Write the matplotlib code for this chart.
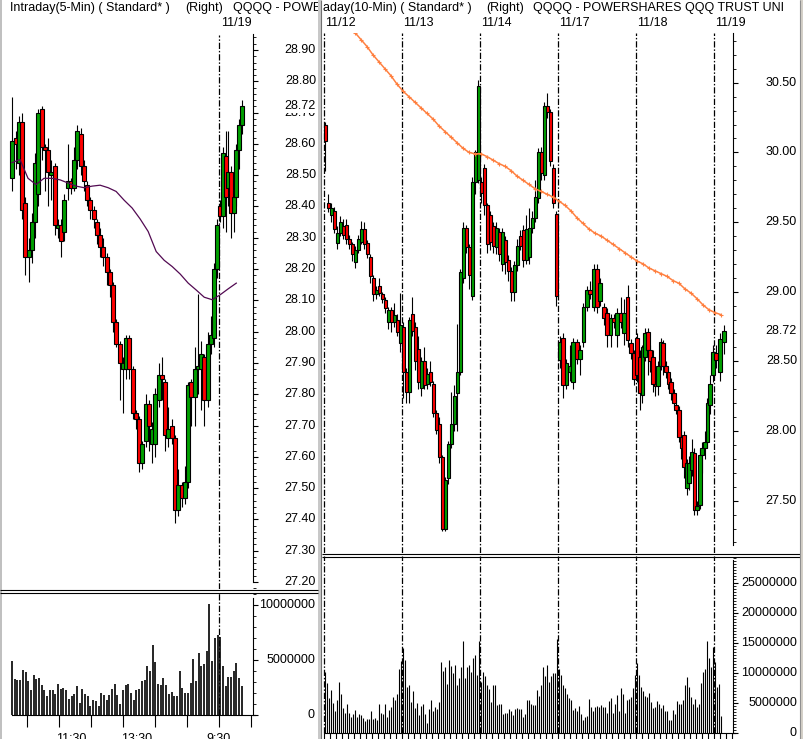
import numpy as np
import matplotlib
matplotlib.use("Agg")
import matplotlib.pyplot as plt
from matplotlib.patches import Rectangle
from matplotlib.ticker import MultipleLocator

W, H = 804, 739
GREEN = '#00a000'
RED = '#ff0000'
ORANGE = '#ff8040'
PURPLE = '#520a52'
DASHDOT = (0, (5, 1.5, 1.2, 1.5))

plt.rcParams['font.family'] = ['Liberation Sans', 'DejaVu Sans']
plt.rcParams['font.size'] = 9

# ---------------- left panel: 5-min bars, 11/18 + start of 11/19 ----------------
left_days = ['11/18', '11/19']
left_candles_per_day = [64, 9]
left_open = [28.49, 28.62, 28.54, 28.67, 28.41, 28.24, 28.26, 28.35, 28.44, 28.71,
             28.59, 28.58, 28.50, 28.53, 28.33, 28.34, 28.32, 28.46, 28.48, 28.46,
             28.55, 28.63, 28.53, 28.47, 28.42, 28.39, 28.35, 28.31, 28.27, 28.24,
             28.19, 28.15, 28.03, 27.96, 27.88, 27.88, 27.98, 27.88, 27.74, 27.72,
             27.58, 27.65, 27.77, 27.64, 27.64, 27.78, 27.86, 27.84, 27.66, 27.70,
             27.66, 27.43, 27.51, 27.47, 27.52, 27.84, 27.79, 27.88, 27.88, 27.92,
             27.78, 27.96, 27.98, 28.20,
             28.40, 28.37, 28.56, 28.46, 28.51, 28.38, 28.43, 28.58, 28.66]
left_high = [28.75, 28.64, 28.69, 28.70, 28.43, 28.30, 28.38, 28.57, 28.71, 28.72,
             28.60, 28.62, 28.55, 28.54, 28.36, 28.36, 28.44, 28.60, 28.49, 28.59,
             28.66, 28.65, 28.55, 28.48, 28.43, 28.40, 28.36, 28.33, 28.30, 28.25,
             28.20, 28.16, 28.04, 27.97, 27.92, 27.99, 27.99, 27.89, 27.75, 27.73,
             27.65, 27.80, 27.78, 27.71, 27.82, 27.90, 27.92, 27.85, 27.76, 27.72,
             27.67, 27.56, 27.52, 27.57, 27.84, 27.85, 27.95, 28.12, 27.97, 27.93,
             28.00, 28.05, 28.22, 28.36,
             28.42, 28.59, 28.64, 28.64, 28.53, 28.52, 28.60, 28.68, 28.74]
left_low = [28.45, 28.52, 28.50, 28.36, 28.18, 28.16, 28.22, 28.30, 28.40, 28.55,
            28.45, 28.40, 28.42, 28.31, 28.30, 28.24, 28.29, 28.42, 28.44, 28.45,
            28.52, 28.50, 28.45, 28.40, 28.36, 28.33, 28.28, 28.24, 28.21, 28.15,
            28.11, 28.00, 27.95, 27.78, 27.74, 27.85, 27.85, 27.72, 27.69, 27.55,
            27.56, 27.63, 27.62, 27.58, 27.60, 27.76, 27.78, 27.62, 27.63, 27.64,
            27.39, 27.41, 27.44, 27.45, 27.50, 27.70, 27.70, 27.80, 27.75, 27.70,
            27.76, 27.93, 27.95, 28.17,
            28.35, 28.33, 28.32, 28.40, 28.30, 28.32, 28.40, 28.52, 28.63]
left_close = [28.61, 28.60, 28.67, 28.39, 28.24, 28.26, 28.35, 28.54, 28.70, 28.59,
              28.58, 28.51, 28.51, 28.34, 28.34, 28.29, 28.42, 28.48, 28.46, 28.55,
              28.64, 28.53, 28.48, 28.42, 28.39, 28.36, 28.31, 28.27, 28.24, 28.19,
              28.15, 28.03, 27.96, 27.90, 27.90, 27.98, 27.88, 27.74, 27.72, 27.58,
              27.64, 27.77, 27.70, 27.69, 27.80, 27.86, 27.85, 27.67, 27.69, 27.66,
              27.43, 27.51, 27.47, 27.52, 27.83, 27.79, 27.88, 27.89, 27.93, 27.78,
              27.96, 27.99, 28.20, 28.34,
              28.37, 28.57, 28.43, 28.51, 28.38, 28.43, 28.58, 28.66, 28.72]
# volume in millions of shares
left_vol_per_day = [77, 9]
left_volume = [4.9, 3.3, 3.2, 3.2, 4.1, 3.9, 3.1, 2.3, 3.6, 3.3,
               3.4, 2.7, 2.3, 1.7, 2.3, 2.3, 1.9, 2.8, 2.4, 2.5,
               2.3, 1.5, 1.7, 1.9, 2.6, 1.1, 2.4, 1.9, 1.7, 0.8,
               1.4, 1.3, 0.8, 2.0, 1.8, 1.4, 1.8, 2.4, 2.8, 1.8,
               1.0, 2.3, 2.7, 2.8, 2.0, 1.4, 2.3, 2.4, 3.1, 3.2,
               4.5, 4.0, 6.4, 4.8, 2.8, 2.7, 3.4, 2.7, 1.9, 2.1,
               1.7, 1.7, 4.0, 2.5, 2.0, 2.0, 2.9, 5.1, 3.1, 5.6,
               4.5, 4.6, 5.8, 10.1, 4.9, 7.0, 7.3,
               7.1, 4.5, 2.6, 3.5, 3.5, 4.0, 4.7, 3.4, 2.6]
# moving average, one value every 3 bars starting at bar 0
left_ma = [28.54, 28.55, 28.49, 28.47, 28.49, 28.49, 28.485, 28.475, 28.465, 28.46,
           28.465, 28.468, 28.46, 28.448, 28.42, 28.395, 28.36, 28.32, 28.256, 28.228,
           28.208, 28.184, 28.155, 28.133, 28.11, 28.102, 28.118, 28.137, 28.155]
left_price_ticks = [28.90, 28.80, 28.70, 28.60, 28.50, 28.40, 28.30, 28.20, 28.10, 28.00,
                    27.90, 27.80, 27.70, 27.60, 27.50, 27.40, 27.30, 27.20]
left_vol_ticks = [0, 5, 10]
left_time_labels = ['11:30', '13:30', '9:30']
left_time_slots = [22.3, 46.8, 77.5]
last_price = 28.72

# ---------------- right panel: 10-min bars, 11/12 .. 11/19 ----------------
right_days = ['11/12', '11/13', '11/14', '11/17', '11/18', '11/19']
right_candles_per_day = [26, 26, 26, 23, 30, 3]
right_open = [
    # 11/12
    30.20, 29.64, 29.55, 29.58, 29.35, 29.42, 29.47, 29.48, 29.38, 29.34, 29.21, 29.30, 29.36,
    29.45, 29.35, 29.25, 29.10, 28.98, 29.04, 28.98, 28.94, 28.78, 28.87, 28.78, 28.80, 28.63,
    # 11/13
    28.75, 28.42, 28.28, 28.84, 28.75, 28.59, 28.31, 28.50, 28.34, 28.42, 28.34, 28.13, 28.05,
    27.81, 27.30, 27.66, 27.91, 28.05, 28.27, 28.42, 29.10, 29.46, 29.32, 28.97, 29.79, 29.80,
    # 11/14
    29.79, 29.89, 29.62, 29.55, 29.47, 29.32, 29.43, 29.20, 29.37, 29.23, 29.15, 29.00, 29.19,
    29.40, 29.44, 29.23, 29.25, 29.46, 29.53, 29.67, 30.00, 29.84, 30.33, 30.29, 29.89, 29.56,
    # 11/17
    28.51, 28.67, 28.33, 28.42, 28.35, 28.64, 28.52, 28.64, 28.89, 29.01, 28.89, 29.16,
    28.93, 28.89, 28.85, 28.69, 28.81, 28.69, 28.85, 28.70, 28.96, 28.63, 28.56,
    # 11/18
    28.67, 28.53, 28.26, 28.53, 28.71, 28.58, 28.53, 28.34, 28.32, 28.47, 28.63, 28.47, 28.42,
    28.35, 28.27, 28.19, 28.15, 27.96, 27.97, 27.59, 27.63, 27.72, 27.84, 27.43, 27.47, 27.83,
    27.88, 27.92, 28.19, 28.40,
    # 11/19
    28.56, 28.42, 28.64]
right_high = [
    30.22, 29.70, 29.64, 29.61, 29.47, 29.54, 29.52, 29.52, 29.41, 29.36, 29.33, 29.41, 29.51,
    29.50, 29.37, 29.27, 29.12, 29.04, 29.10, 29.00, 28.96, 28.89, 28.89, 28.92, 28.84, 28.99,
    28.78, 28.45, 28.82, 28.96, 28.78, 28.68, 28.53, 28.60, 28.45, 28.50, 28.36, 28.15, 28.10,
    27.83, 27.67, 27.93, 28.28, 28.33, 28.77, 29.16, 29.50, 29.48, 29.34, 29.82, 30.02, 30.52,
    29.82, 29.92, 29.64, 29.58, 29.50, 29.50, 29.46, 29.46, 29.40, 29.26, 29.18, 29.22, 29.38,
    29.44, 29.48, 29.55, 29.60, 29.58, 29.80, 30.03, 30.04, 30.36, 30.43, 30.31, 29.92, 29.58,
    28.68, 28.70, 28.52, 28.62, 28.67, 28.66, 28.62, 28.92, 29.04, 29.08, 29.20, 29.20,
    29.10, 28.92, 28.88, 28.84, 28.84, 28.88, 28.96, 28.95, 29.05, 28.66, 28.58,
    28.70, 28.58, 28.62, 28.74, 28.74, 28.62, 28.58, 28.40, 28.50, 28.67, 28.65, 28.50, 28.45,
    28.38, 28.30, 28.22, 28.18, 28.00, 28.00, 27.80, 27.82, 27.94, 27.88, 27.50, 27.87, 27.92,
    28.00, 28.24, 28.40, 28.62,
    28.62, 28.70, 28.76]
right_low = [
    29.87, 29.57, 29.50, 29.42, 29.31, 29.40, 29.38, 29.34, 29.31, 29.22, 29.17, 29.28, 29.34,
    29.31, 29.24, 29.06, 28.93, 28.95, 28.97, 28.92, 28.85, 28.73, 28.71, 28.75, 28.68, 28.57,
    28.24, 28.20, 28.20, 28.68, 28.44, 28.30, 28.25, 28.30, 28.30, 28.32, 28.10, 27.98, 27.77,
    27.28, 27.28, 27.62, 27.88, 28.00, 28.00, 28.40, 29.06, 29.28, 29.02, 28.94, 29.70, 29.78,
    29.64, 29.55, 29.28, 29.30, 29.28, 29.27, 29.22, 29.15, 29.13, 29.08, 28.93, 28.93, 29.15,
    29.30, 29.18, 29.20, 29.20, 29.42, 29.50, 29.64, 29.80, 29.80, 30.25, 29.90, 29.60, 28.90,
    28.45, 28.24, 28.30, 28.36, 28.30, 28.48, 28.40, 28.60, 28.86, 28.95, 28.86, 28.85,
    28.90, 28.76, 28.60, 28.60, 28.74, 28.60, 28.74, 28.62, 28.60, 28.52, 28.33,
    28.35, 28.15, 28.20, 28.50, 28.40, 28.42, 28.28, 28.25, 28.26, 28.44, 28.40, 28.38, 28.30,
    28.22, 28.17, 28.12, 27.92, 27.80, 27.66, 27.54, 27.58, 27.68, 27.40, 27.40, 27.44, 27.70,
    27.80, 27.88, 28.12, 28.35,
    28.45, 28.36, 28.55]
right_close = [
    30.08, 29.60, 29.60, 29.45, 29.42, 29.50, 29.41, 29.38, 29.34, 29.27, 29.30, 29.38, 29.45,
    29.34, 29.27, 29.11, 28.98, 29.01, 28.99, 28.95, 28.88, 28.87, 28.78, 28.83, 28.71, 28.76,
    28.42, 28.28, 28.80, 28.72, 28.50, 28.35, 28.50, 28.33, 28.41, 28.35, 28.13, 28.01, 27.81,
    27.30, 27.65, 27.91, 28.05, 28.25, 28.42, 29.14, 29.46, 29.32, 29.12, 29.79, 30.00, 30.48,
    29.71, 29.62, 29.34, 29.36, 29.33, 29.46, 29.27, 29.43, 29.21, 29.15, 29.00, 29.19, 29.33,
    29.33, 29.23, 29.45, 29.46, 29.53, 29.68, 30.00, 29.85, 30.33, 30.29, 29.94, 29.64, 28.97,
    28.64, 28.33, 28.49, 28.47, 28.64, 28.52, 28.58, 28.89, 29.01, 28.98, 29.16, 28.89,
    29.06, 28.81, 28.69, 28.81, 28.78, 28.85, 28.78, 28.85, 28.65, 28.56, 28.37,
    28.40, 28.27, 28.60, 28.70, 28.58, 28.50, 28.34, 28.32, 28.47, 28.64, 28.47, 28.42, 28.34,
    28.27, 28.20, 28.15, 27.96, 27.88, 27.74, 27.77, 27.77, 27.85, 27.43, 27.46, 27.83, 27.88,
    27.92, 28.20, 28.34, 28.57,
    28.51, 28.66, 28.72]
right_vol_per_day = [39, 39, 39, 39, 39, 4]
right_volume = [
    # 11/12
    10.2, 8.3, 5.8, 7.1, 5.0, 3.6, 5.5, 8.5, 6.5, 4.2, 3.4, 4.8, 3.3, 2.7, 3.1, 3.8, 2.7, 3.2, 3.0, 2.5,
    2.0, 2.4, 2.4, 3.6, 2.3, 2.5, 2.2, 4.8, 3.3, 3.1, 4.8, 2.7, 3.8, 4.4, 6.0, 5.4, 6.5, 10.6, 12.0,
    # 11/13
    14.1, 12.1, 7.7, 8.0, 5.2, 7.0, 4.2, 5.0, 3.0, 4.5, 4.8, 3.2, 1.7, 4.0, 5.4, 3.7, 4.4, 4.0, 5.2, 11.8,
    10.3, 10.9, 8.1, 12.1, 11.2, 10.0, 11.3, 8.0, 9.1, 11.0, 15.2, 9.1, 10.9, 11.3, 10.1, 12.4, 13.0, 9.6, 15.2,
    # 11/14
    8.5, 10.1, 9.4, 8.0, 7.3, 5.2, 8.0, 8.0, 4.7, 4.8, 4.8, 3.2, 3.4, 3.4, 4.0, 3.7, 3.0, 4.0, 4.2, 4.0,
    4.0, 2.7, 3.2, 5.5, 5.5, 4.8, 4.7, 4.7, 7.1, 6.1, 8.0, 10.9, 9.5, 11.3, 8.5, 9.5, 9.9, 10.0, 15.6,
    # 11/17
    10.6, 9.6, 8.0, 7.4, 6.5, 5.8, 5.5, 3.8, 4.1, 3.7, 4.5, 3.2, 2.2, 2.7, 2.8, 5.6, 4.4, 3.7, 4.4, 4.5,
    4.4, 4.7, 4.4, 4.4, 3.4, 5.3, 5.8, 3.3, 4.8, 6.3, 3.7, 7.4, 6.5, 3.4, 5.5, 5.6, 6.0, 7.4, 9.6,
    # 11/18
    11.6, 9.6, 7.6, 6.9, 6.1, 6.0, 6.7, 5.2, 4.1, 4.4, 5.3, 4.8, 4.1, 4.7, 3.7, 3.6, 2.2, 2.2, 3.8, 3.2,
    5.3, 4.8, 4.8, 5.5, 8.0, 9.3, 7.7, 6.0, 4.8, 5.6, 4.4, 4.8, 8.3, 10.1, 10.6, 15.2, 12.4, 11.0, 14.3,
    # 11/19
    11.8, 7.6, 8.1, 2.8]
# moving average, one value every 3 slots starting at slot 15
right_ma_start = 15
right_ma = [30.86, 30.81, 30.76, 30.70, 30.65, 30.60, 30.55, 30.49, 30.44, 30.40,
            30.36, 30.32, 30.28, 30.24, 30.19, 30.15, 30.11, 30.07, 30.03, 30.00,
            29.99, 29.99, 29.97, 29.945, 29.92, 29.90, 29.87, 29.83, 29.80, 29.77,
            29.74, 29.72, 29.70, 29.68, 29.65, 29.62, 29.58, 29.53, 29.49, 29.45,
            29.42, 29.40, 29.37, 29.34, 29.31, 29.28, 29.25, 29.22, 29.20, 29.17,
            29.15, 29.13, 29.11, 29.08, 29.06, 29.02, 28.99, 28.95, 28.905, 28.87,
            28.85, 28.835]
right_price_ticks = [30.50, 30.00, 29.50, 29.00, 28.50, 28.00, 27.50]
right_vol_ticks = [0, 5, 10, 15, 20, 25]


def panel_x(sizes, slots, last_step):
    # spread each full day's bars across its slots; the running day uses a fixed step
    xs = []
    for d, n in enumerate(sizes):
        step = slots / n if d < len(sizes) - 1 else last_step
        xs.append(d * slots - 0.5 + (np.arange(n) + 0.5) * step)
    return np.concatenate(xs)


def draw_candles(ax, x, o, h, l, c, width):
    o, h, l, c = (np.asarray(a, float) for a in (o, h, l, c))
    ax.vlines(x, l, h, color='black', lw=0.8, zorder=2)
    body = np.maximum(np.abs(c - o), 0.004)
    colors = np.where(c >= o, GREEN, RED)
    ax.bar(x, body, width, bottom=np.minimum(o, c), color=colors,
           edgecolor='black', linewidth=0.8, zorder=3)


def right_labels(ax, values, texts, dx_px, **kw):
    for v, t in zip(values, texts):
        ax.annotate(t, xy=(1, v), xycoords=('axes fraction', 'data'),
                    xytext=(dx_px * 0.72, 0), textcoords='offset points',
                    ha='right', va='center', annotation_clip=False, **kw)


def style_axis(ax, bounds, major, minor, maj_len, min_len):
    for s in ('top', 'left', 'bottom'):
        ax.spines[s].set_visible(False)
    ax.spines['right'].set_bounds(*bounds)
    ax.spines['right'].set_linewidth(0.8)
    ax.yaxis.tick_right()
    ax.yaxis.set_major_locator(MultipleLocator(major))
    ax.yaxis.set_minor_locator(MultipleLocator(minor))
    ax.tick_params(axis='y', which='major', length=maj_len, width=0.8, labelright=False)
    ax.tick_params(axis='y', which='minor', length=min_len, width=0.6)
    ax.set_xticks([])


fig = plt.figure(figsize=(W / 100, H / 100), dpi=100)


def px_axes(x0, y0, x1, y1, **kw):
    return fig.add_axes([x0 / W, 1 - y1 / H, (x1 - x0) / W, (y1 - y0) / H], **kw)


# ---- left panel ----
lx_lim = ((2 - 12) / 2.67, (253 - 12) / 2.67)
ax_lp = px_axes(2, 35, 253, 589)
ax_lp.set_xlim(*lx_lim)
ax_lp.set_ylim(27.20 - 7 / 313, 28.90 + 15 / 313)
style_axis(ax_lp, (27.20, 28.95), 0.10, 0.02, 3.5, 1.8)

lx = panel_x(left_candles_per_day, 78, 1.0)
draw_candles(ax_lp, lx, left_open, left_high, left_low, left_close, 1.5)
ax_lp.plot(np.arange(len(left_ma)) * 3, left_ma, color=PURPLE, lw=0.9, zorder=4)
ax_lp.axvline(77.5, color='black', lw=0.9, ls=DASHDOT, zorder=1)
right_labels(ax_lp, left_price_ticks, ['%.2f' % v for v in left_price_ticks], 63)
right_labels(ax_lp, [last_price], ['%.2f' % last_price], 63,
             bbox=dict(fc='white', ec='none', pad=0.6))
ax_lp.annotate(left_days[1], xy=(77.5, 1), xycoords=('data', 'axes fraction'),
               xytext=(1.5, 8.5), textcoords='offset points', ha='left', va='center',
               annotation_clip=False)

ax_lv = px_axes(2, 592, 253, 715)
ax_lv.set_xlim(*lx_lim)
ax_lv.set_ylim(0, (715 - 592) / 11)
style_axis(ax_lv, (0, 10.6), 5, 1, 3.5, 1.8)
ax_lv.spines['bottom'].set_visible(True)
ax_lv.spines['bottom'].set_bounds(0, lx_lim[1] + 0.8)
ax_lv.spines['bottom'].set_linewidth(0.8)
ax_lv.set_xticks(np.arange(5.5, 90, 12))
ax_lv.tick_params(axis='x', length=8.5, width=0.8, labelbottom=False)
lvx = panel_x(left_vol_per_day, 78, 1.0)
ax_lv.vlines(lvx, 0, left_volume, color='black', lw=1.2)
ax_lv.axvline(77.5, color='black', lw=0.9, ls=DASHDOT, zorder=1)
right_labels(ax_lv, left_vol_ticks, ['%d' % (v * 1000000) for v in left_vol_ticks], 62)
for t, s in zip(left_time_labels, left_time_slots):
    ax_lv.annotate(t, xy=(s, 0), xycoords=('data', 'axes fraction'),
                   xytext=(0, -13), textcoords='offset points', ha='center', va='top',
                   annotation_clip=False)

# ---- right panel ----
rx_lim = ((322 - 325) / 2, (733 - 325) / 2)
ax_rp = px_axes(322, 33, 733, 553)
ax_rp.set_xlim(*rx_lim)
ax_rp.set_ylim(28 - 122 / 139.3, 28 + 398 / 139.3)
style_axis(ax_rp, (27.18, 30.86), 0.5, 0.1, 3.5, 1.8)

rx = panel_x(right_candles_per_day, 39, 2.0)
draw_candles(ax_rp, rx, right_open, right_high, right_low, right_close, 1.9)
ax_rp.plot(right_ma_start + np.arange(len(right_ma)) * 3, right_ma, color=ORANGE,
           lw=1.1, marker='+', ms=3, mew=0.8, zorder=5)
for d, day in enumerate(right_days):
    ax_rp.axvline(d * 39 - 0.5, color='black', lw=0.9, ls=DASHDOT, zorder=1)
    ax_rp.annotate(day, xy=(d * 39 - 0.5, 1), xycoords=('data', 'axes fraction'),
                   xytext=(0.8, 7.5), textcoords='offset points', ha='left', va='center',
                   annotation_clip=False)
right_labels(ax_rp, right_price_ticks, ['%.2f' % v for v in right_price_ticks], 64)
right_labels(ax_rp, [last_price], ['%.2f' % last_price], 64)

ax_rv = px_axes(322, 556, 733, 733)
ax_rv.set_xlim(*rx_lim)
ax_rv.set_ylim(0, (733 - 556) / 6.02)
style_axis(ax_rv, (0, 28.7), 5, 0.5, 3.5, 1.8)
ax_rv.spines['bottom'].set_visible(True)
ax_rv.spines['bottom'].set_bounds(-0.5, rx_lim[1] + 1)
ax_rv.spines['bottom'].set_linewidth(0.8)
ax_rv.set_xticks(np.arange(-0.5, 204, 3))
ax_rv.tick_params(axis='x', length=4.5, width=0.8, labelbottom=False)
rvx = panel_x(right_vol_per_day, 39, 1.0)
ax_rv.vlines(rvx, 0, right_volume, color='black', lw=0.8)
for d in range(len(right_days)):
    ax_rv.axvline(d * 39 - 0.5, color='black', lw=0.9, ls=DASHDOT, zorder=1)
right_labels(ax_rv, right_vol_ticks, ['%d' % (v * 1000000) for v in right_vol_ticks], 64)

# ---- headers: only the visible part of each caption ----
hl = px_axes(0, 0, 318, 33)
hl.set_xlim(0, 318)
hl.set_ylim(33, 0)
hl.axis('off')
for x, t in [(10, 'Intraday(5-Min) ( Standard* )'), (185, '(Right)'),
             (233, 'QQQQ - POWE')]:
    hl.text(x, 8, t, ha='left', va='center', clip_on=True)

hr = px_axes(322, 0, 800, 33)
hr.set_xlim(322, 800)
hr.set_ylim(33, 0)
hr.axis('off')
hr.text(323, 8, 'aday(10-Min) ( Standard* )', ha='left', va='center', clip_on=True)
hr.text(486, 8, '(Right)', ha='left', va='center', clip_on=True)
hr.text(533, 8, 'QQQQ - POWERSHARES QQQ TRUST UNI', ha='left', va='center', clip_on=True)

# ---- window frame: separators and borders ----
ov = fig.add_axes([0, 0, 1, 1], zorder=10)
ov.set_xlim(0, W)
ov.set_ylim(H, 0)
ov.axis('off')
ov.hlines([589.5, 592.5], 0, 318, color='black', lw=0.8)
ov.hlines([553.5, 556.5], 322, 800, color='black', lw=0.8)
ov.add_patch(Rectangle((0, 0), 2, H, color='#c0c0c0', lw=0))
ov.add_patch(Rectangle((318, 0), 3, H, color='#c8c8c8', lw=0))
ov.vlines(321.5, 0, H, color='#707070', lw=0.8)
ov.add_patch(Rectangle((800, 0), 4, H, color='#d4d0c8', lw=0))
ov.vlines(800.5, 0, H, color='#909090', lw=0.8)

fig.savefig('out.png', dpi=100)
